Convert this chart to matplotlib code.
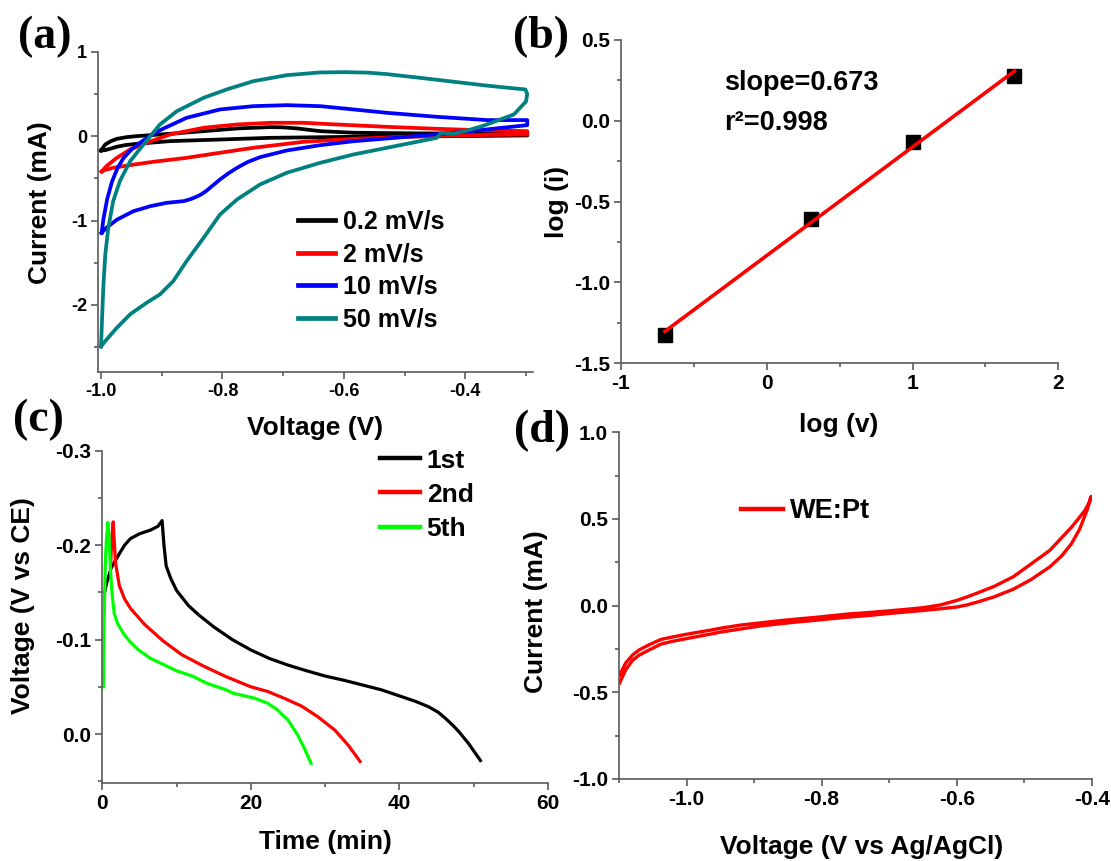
import numpy as np
import matplotlib
matplotlib.use('Agg')
import matplotlib.pyplot as plt
from matplotlib.ticker import MultipleLocator, FormatStrFormatter

plt.rcParams['font.family'] = ['Liberation Sans', 'DejaVu Sans']
plt.rcParams['font.weight'] = 'bold'
plt.rcParams['axes.labelweight'] = 'bold'
plt.rcParams['axes.unicode_minus'] = False

# ---------------- (a) cyclic voltammograms ----------------
scan_labels = ['0.2 mV/s', '2 mV/s', '10 mV/s', '50 mV/s']
scan_colors = ['#000000', '#ff0000', '#0000ff', '#008080']

cv02_v = [-1.0, -0.993, -0.984, -0.974, -0.958, -0.941, -0.886, -0.831, -0.776, -0.721, -0.700, -0.677, -0.639,
          -0.584, -0.474, -0.298,
          -0.298, -0.419, -0.584, -0.721, -0.804, -0.886, -0.941, -0.960, -0.974, -0.993, -1.0]
cv02_i = [-0.17, -0.099, -0.06, -0.032, -0.012, 0.0, 0.028, 0.059, 0.091, 0.107, 0.104, 0.091, 0.059,
          0.04, 0.032, 0.032,
          0.008, 0.0, -0.008, -0.02, -0.04, -0.059, -0.091, -0.106, -0.126, -0.166, -0.17]

cv2_v = [-0.999, -0.991, -0.974, -0.952, -0.925, -0.886, -0.831, -0.776, -0.721, -0.666, -0.612, -0.529, -0.447,
         -0.364, -0.298, -0.298, -0.392, -0.502, -0.584, -0.666, -0.749, -0.804, -0.859, -0.914, -0.952, -0.980,
         -0.993, -0.999]
cv2_i = [-0.42, -0.355, -0.257, -0.158, -0.079, 0.02, 0.099, 0.138, 0.158, 0.158, 0.138, 0.11, 0.087,
         0.067, 0.059, 0.02, 0.012, -0.008, -0.032, -0.067, -0.138, -0.197, -0.257, -0.304, -0.343, -0.375,
         -0.40, -0.42]

cv10_v = [-0.999, -0.996, -0.990, -0.982, -0.973, -0.963, -0.950, -0.936, -0.920, -0.903, -0.859, -0.804, -0.749,
          -0.694, -0.639, -0.584, -0.529, -0.447, -0.364, -0.298,
          -0.298, -0.364, -0.419, -0.502, -0.584, -0.639, -0.694, -0.738, -0.758, -0.776, -0.790, -0.804,
          -0.816, -0.826, -0.835, -0.842, -0.852, -0.864, -0.892, -0.919, -0.947, -0.974, -0.991, -0.999]
cv10_i = [-1.145, -0.98, -0.75, -0.54, -0.38, -0.26, -0.16, -0.08, 0.0, 0.07, 0.217, 0.316, 0.355,
          0.367, 0.355, 0.316, 0.276, 0.229, 0.19, 0.19,
          0.13, 0.08, 0.04, -0.012, -0.06, -0.107, -0.17, -0.249, -0.305, -0.375, -0.44, -0.513,
          -0.585, -0.645, -0.69, -0.715, -0.745, -0.77, -0.79, -0.83, -0.89, -0.99, -1.085, -1.145]

cv50_v = [-1.0, -0.998, -0.996, -0.993, -0.988, -0.980, -0.969, -0.952, -0.930, -0.903, -0.875, -0.831, -0.793,
          -0.749, -0.694, -0.640, -0.600, -0.560, -0.530, -0.474, -0.420, -0.364, -0.330, -0.301, -0.298, -0.300,
          -0.320, -0.345, -0.372, -0.400, -0.419, -0.440, -0.447, -0.474, -0.529, -0.584, -0.639, -0.694, -0.738,
          -0.776, -0.804, -0.831, -0.859, -0.881, -0.903, -0.925, -0.952, -0.974, -0.991, -1.0]
cv50_i = [-2.49, -2.1, -1.76, -1.40, -1.085, -0.77, -0.533, -0.296, -0.099, 0.138, 0.296, 0.454, 0.553,
          0.651, 0.722, 0.754, 0.758, 0.752, 0.735, 0.69, 0.645, 0.598, 0.573, 0.553, 0.5, 0.41,
          0.257, 0.19, 0.119, 0.06, 0.03, 0.04, -0.02, -0.059, -0.138, -0.217, -0.316, -0.434, -0.572,
          -0.75, -0.928, -1.204, -1.48, -1.717, -1.875, -1.974, -2.11, -2.27, -2.41, -2.49]

# ---------------- (b) log(i) vs log(v) ----------------
log_v = [-0.699, 0.301, 1.0, 1.699]
log_i = [-1.325, -0.609, -0.130, 0.276]
fit_text = ['slope=0.673', 'r\u00b2=0.998']

# ---------------- (c) charge/discharge ----------------
cycle_labels = ['1st', '2nd', '5th']
cycle_colors = ['#000000', '#ff0000', '#00ff00']
t1 = [0.3, 0.6, 1.2, 2.3, 3.0, 3.8, 5.0, 6.5, 7.5, 8.05, 8.3, 8.6, 9.2, 10, 11.6, 13, 15, 17.5, 20, 22.5,
      25, 27.5, 30, 32.5, 35, 37.5, 40.3, 42.2, 43.9, 45.2, 46.2, 47.2, 48, 49.3, 50.9]
v1 = [-0.150, -0.160, -0.176, -0.191, -0.200, -0.207, -0.212, -0.216, -0.220, -0.226, -0.200, -0.178, -0.165,
      -0.152, -0.136, -0.126, -0.1135, -0.100, -0.089, -0.080, -0.073, -0.067, -0.0614, -0.057, -0.052, -0.047,
      -0.0396, -0.0345, -0.029, -0.0232, -0.0166, -0.0092, -0.0025, 0.0099, 0.028]
t2 = [1.1, 1.3, 1.47, 1.6, 1.8, 2.3, 3.0, 3.8, 5.7, 8.2, 10.7, 13.6, 16.6, 20, 22.3, 24.5, 26.8, 29.0,
      31.3, 33.1, 34.7]
v2 = [-0.175, -0.210, -0.2247, -0.205, -0.180, -0.157, -0.143, -0.133, -0.116, -0.0985, -0.084, -0.072,
      -0.061, -0.050, -0.045, -0.0378, -0.0297, -0.0184, -0.0042, 0.0117, 0.029]
t5 = [0.15, 0.25, 0.4, 0.55, 0.75, 0.9, 1.1, 1.3, 1.6, 2.0, 2.8, 3.8, 4.8, 6.5, 8.2, 10, 12.1, 14.1, 16.6,
      17.7, 20.5, 22.3, 23.6, 25.0, 26.3, 27.2, 28.1]
v5 = [-0.05, -0.12, -0.18, -0.205, -0.224, -0.21, -0.174, -0.15, -0.128, -0.118, -0.107, -0.097, -0.0895,
      -0.080, -0.0737, -0.067, -0.0614, -0.0537, -0.0470, -0.043, -0.038, -0.0325, -0.0254, -0.0148, 0.001,
      0.015, 0.031]

# ---------------- (d) Pt working electrode CV ----------------
pt_v = [-1.099, -1.09, -1.08, -1.07, -1.055, -1.038, -1.02, -1.0, -0.97, -0.946, -0.92, -0.892, -0.865, -0.839,
        -0.81, -0.785, -0.76, -0.731, -0.70, -0.677, -0.65, -0.624, -0.60, -0.585, -0.570, -0.545, -0.516,
        -0.49, -0.462, -0.445, -0.430, -0.418, -0.406, -0.401,
        -0.403, -0.410, -0.420, -0.430, -0.445, -0.462, -0.49, -0.516, -0.545, -0.570, -0.585, -0.60, -0.624,
        -0.65, -0.677, -0.70, -0.731, -0.76, -0.785, -0.81, -0.839, -0.865, -0.892, -0.92, -0.946, -0.97, -1.0,
        -1.02, -1.038, -1.055, -1.07, -1.08, -1.09, -1.099]
pt_i = [-0.445, -0.37, -0.315, -0.285, -0.255, -0.222, -0.205, -0.19, -0.168, -0.150, -0.135, -0.118, -0.106,
        -0.095, -0.085, -0.075, -0.066, -0.057, -0.045, -0.037, -0.028, -0.018, -0.008, 0.004, 0.020, 0.050,
        0.095, 0.150, 0.224, 0.285, 0.357, 0.44, 0.560, 0.63,
        0.60, 0.55, 0.50, 0.452, 0.39, 0.319, 0.24, 0.167, 0.11, 0.072, 0.05, 0.030, 0.004, -0.012, -0.022,
        -0.030, -0.040, -0.048, -0.058, -0.068, -0.078, -0.088, -0.10, -0.112, -0.128, -0.145, -0.165, -0.18,
        -0.195, -0.225, -0.255, -0.285, -0.33, -0.40]

# ---------------- figure ----------------
W, H = 1111, 861
fig = plt.figure(figsize=(W / 100, H / 100), dpi=100)
SP = '#5a5a5a'


def add_axes(l, r, t, b):
    ax = fig.add_axes([l / W, 1 - b / H, (r - l) / W, (b - t) / H])
    ax.patch.set_alpha(0)
    return ax


def style(ax, fs):
    for s in ['top', 'right']:
        ax.spines[s].set_visible(False)
    for s in ['left', 'bottom']:
        ax.spines[s].set_color(SP)
        ax.spines[s].set_linewidth(1.2)
    ax.tick_params(which='both', direction='out', color=SP, width=1.2, labelsize=fs, pad=3)
    ax.tick_params(which='major', length=5)
    ax.tick_params(which='minor', length=3)


def labels(ax, xl, yl, xpos, ypos, fs=19):
    ax.set_xlabel(xl, fontsize=fs)
    ax.set_ylabel(yl, fontsize=fs)
    ax.xaxis.set_label_coords(*xpos)
    ax.yaxis.set_label_coords(*ypos)
    ax.xaxis.label.set_va('center')
    ax.yaxis.label.set_va('center')


def thick_handles(leg, lw):
    for h in leg.legend_handles:
        h.set_linewidth(lw)


# (a)
axa = add_axes(98.3, 533.3, 51.7, 371.7)
for v, i, lab, c in zip([cv02_v, cv2_v, cv10_v, cv50_v], [cv02_i, cv2_i, cv10_i, cv50_i], scan_labels, scan_colors):
    axa.plot(v, i, color=c, lw=2.7, label=lab, solid_joinstyle='round')
axa.set_xlim(-1.0045, -0.288)
axa.set_ylim(-2.79, 1.0)
axa.xaxis.set_major_locator(MultipleLocator(0.2))
axa.xaxis.set_minor_locator(MultipleLocator(0.1))
axa.xaxis.set_major_formatter(FormatStrFormatter('%.1f'))
axa.yaxis.set_major_locator(MultipleLocator(1))
axa.yaxis.set_minor_locator(MultipleLocator(0.5))
axa.yaxis.set_major_formatter(FormatStrFormatter('%d'))
style(axa, 13)
labels(axa, 'Voltage (V)', 'Current (mA)', (0.498, -0.176), (-0.134, 0.527))
lega = axa.legend(loc='upper left', bbox_to_anchor=(0.46, 0.506), frameon=False, fontsize=18,
                  handlelength=1.47, handletextpad=0.3, labelspacing=0.34, borderpad=0, borderaxespad=0)
thick_handles(lega, 3.4)

# (b)
axb = add_axes(621, 1058.3, 40, 363.3)
axb.plot(log_v, log_i, 's', color='black', ms=10, zorder=2)
slope, icpt = np.polyfit(log_v, log_i, 1)
xf = np.array([min(log_v), max(log_v)])
axb.plot(xf, slope * xf + icpt, color='#ff0000', lw=2.6, zorder=3)
axb.set_xlim(-1, 2)
axb.set_ylim(-1.5, 0.5)
axb.xaxis.set_major_locator(MultipleLocator(1))
axb.xaxis.set_minor_locator(MultipleLocator(0.5))
axb.xaxis.set_major_formatter(FormatStrFormatter('%d'))
axb.yaxis.set_major_locator(MultipleLocator(0.5))
axb.yaxis.set_minor_locator(MultipleLocator(0.25))
axb.yaxis.set_major_formatter(FormatStrFormatter('%.1f'))
style(axb, 15)
labels(axb, 'log (v)', 'log (i)', (0.497, -0.191), (-0.147, 0.5))
axb.text(-0.2915, 0.232, fit_text[0], fontsize=19.5, ha='left', va='center')
axb.text(-0.2915, -0.015, fit_text[1], fontsize=19.5, ha='left', va='center')

# (c)
axc = add_axes(102.3, 548, 450.7, 782.7)
for t, v, lab, c in zip([t1, t2, t5], [v1, v2, v5], cycle_labels, cycle_colors):
    axc.plot(t, v, color=c, lw=2.3, label=lab, solid_joinstyle='round')
axc.set_xlim(0, 60)
axc.set_ylim(0.0515, -0.3)
axc.xaxis.set_major_locator(MultipleLocator(20))
axc.xaxis.set_minor_locator(MultipleLocator(10))
axc.yaxis.set_major_locator(MultipleLocator(0.1))
axc.yaxis.set_minor_locator(MultipleLocator(0.05))
axc.yaxis.set_major_formatter(FormatStrFormatter('%.1f'))
style(axc, 15)
labels(axc, 'Time (min)', 'Voltage (V vs CE)', (0.5, -0.178), (-0.177, 0.533))
legc = axc.legend(loc='upper left', bbox_to_anchor=(0.623, 1.006), frameon=False, fontsize=19,
                  handlelength=1.52, handletextpad=0.25, labelspacing=0.38, borderpad=0, borderaxespad=0)
thick_handles(legc, 3.2)

# (d)
axd = add_axes(619, 1091.7, 432.3, 779)
axd.plot(pt_v, pt_i, color='#ff0000', lw=2.4, label='WE:Pt', solid_joinstyle='round')
axd.set_xlim(-1.1, -0.4)
axd.set_ylim(-1.0, 1.0)
axd.xaxis.set_major_locator(MultipleLocator(0.2))
axd.xaxis.set_minor_locator(MultipleLocator(0.1))
axd.xaxis.set_major_formatter(FormatStrFormatter('%.1f'))
axd.yaxis.set_major_locator(MultipleLocator(0.5))
axd.yaxis.set_minor_locator(MultipleLocator(0.25))
axd.yaxis.set_major_formatter(FormatStrFormatter('%.1f'))
style(axd, 15)
labels(axd, 'Voltage (V vs Ag/AgCl)', 'Current (mA)', (0.513, -0.195), (-0.176, 0.482))
legd = axd.legend(loc='upper left', bbox_to_anchor=(0.2575, 0.81), frameon=False, fontsize=19.5,
                  handlelength=1.55, handletextpad=0.25, borderpad=0, borderaxespad=0)
thick_handles(legd, 3.2)

# panel letters
for txt, (px, py) in zip(['(a)', '(b)', '(c)', '(d)'], [(44.5, 36.5), (541, 37), (38, 419.5), (541.5, 430.5)]):
    fig.text(px / W, 1 - py / H, txt, family=['Liberation Serif', 'DejaVu Serif'], weight='bold',
             fontsize=33, ha='center', va='center')

fig.savefig('out.png', dpi=100)
